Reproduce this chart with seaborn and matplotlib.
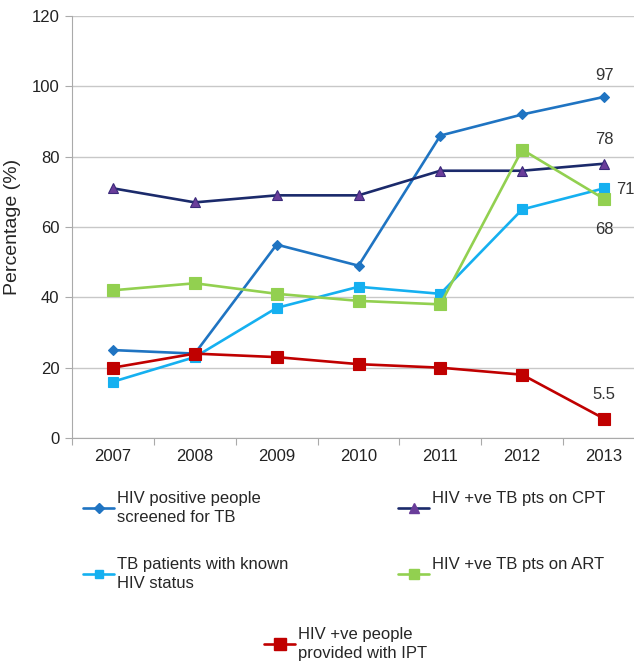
import pandas as pd
import matplotlib
matplotlib.use('Agg')
import matplotlib.pyplot as plt
import seaborn as sns
from matplotlib.lines import Line2D

sns.set_style('white')
plt.rcParams['font.family'] = ['Liberation Sans', 'DejaVu Sans']

# data
years = ['2007', '2008', '2009', '2010', '2011', '2012', '2013']
screened = [25, 24, 55, 49, 86, 92, 97]
on_cpt = [71, 67, 69, 69, 76, 76, 78]
known_status = [16, 23, 37, 43, 41, 65, 71]
on_art = [42, 44, 41, 39, 38, 82, 68]
ipt = [20, 24, 23, 21, 20, 18, 5.5]

series = [
    # label, values, line colour, marker, marker colour, marker size
    ('HIV positive people\nscreened for TB', screened, '#1F74C2', 'D', '#1F74C2', 5.5),
    ('HIV +ve TB pts on CPT', on_cpt, '#1B2A6B', '^', '#6A3D9A', 7.5),
    ('TB patients with known\nHIV status', known_status, '#15B0F0', 's', '#15B0F0', 7),
    ('HIV +ve TB pts on ART', on_art, '#92D050', 's', '#92D050', 8),
    ('HIV +ve people\nprovided with IPT', ipt, '#C00000', 's', '#C00000', 9),
]

fig = plt.figure(figsize=(6.34, 6.63), dpi=100)
ax = fig.add_axes([72 / 634, 225 / 663, 573 / 634, 422 / 663])

pos = list(range(len(years)))
handles = []
for label, vals, lc, mk, mc, ms in series:
    df = pd.DataFrame({'x': pos, 'y': vals})
    sns.lineplot(data=df, x='x', y='y', ax=ax, color=lc, linewidth=1.9,
                 marker=mk, markersize=ms, markerfacecolor=mc,
                 markeredgecolor=mc if mk != '^' else '#3A2A7A', markeredgewidth=0.8)
    handles.append(Line2D([], [], color=lc, linewidth=1.9, marker=mk,
                          markersize=ms * 0.9, markerfacecolor=mc, markeredgecolor=mc))

# value labels on last year
txt = dict(fontsize=12, color='#333333')
ax.annotate('97', (6, screened[-1]), xytext=(0, 12), textcoords='offset points', ha='center', **txt)
ax.annotate('78', (6, on_cpt[-1]), xytext=(0, 14), textcoords='offset points', ha='center', **txt)
ax.annotate('71', (6, known_status[-1]), xytext=(8.5, -4), textcoords='offset points', ha='left', **txt)
ax.annotate('68', (6, on_art[-1]), xytext=(0, -25), textcoords='offset points', ha='center', **txt)
ax.annotate('5.5', (6, ipt[-1]), xytext=(0, 14), textcoords='offset points', ha='center', **txt)

ax.set_xlim(-0.5, 6.5)
ax.set_ylim(0, 120)
ax.set_yticks(range(0, 121, 20))
ax.set_xticks([i - 0.5 for i in range(8)])
ax.set_xticklabels([])
ax.set_xticks(pos, minor=True)
ax.set_xticklabels(years, minor=True)
ax.tick_params(axis='x', which='major', length=5, color='#AAAAAA', direction='out', bottom=True)
ax.tick_params(axis='x', which='minor', length=0, labelsize=12, pad=8, labelcolor='#222222')
ax.tick_params(axis='y', length=5, color='#AAAAAA', direction='out', left=True, labelsize=12,
               labelcolor='#222222', pad=4)
ax.grid(axis='y', color='#C8C8C8', linewidth=1)
ax.set_axisbelow(True)
for s in ['top', 'right']:
    ax.spines[s].set_visible(False)
for s in ['left', 'bottom']:
    ax.spines[s].set_color('#AAAAAA')
ax.set_xlabel('')
ax.set_ylabel('Percentage (%)', fontsize=14, labelpad=8)

leg_kw = dict(frameon=False, fontsize=12, handlelength=1.9, handletextpad=0.15,
              borderaxespad=0, labelspacing=1.9)
legs = [
    fig.legend(handles=[handles[0], handles[2]], labels=[series[0][0], series[2][0]],
               loc='upper left', bbox_to_anchor=(76 / 634, 1 - 484 / 663), **leg_kw),
    fig.legend(handles=[handles[1], handles[3]], labels=[series[1][0] + '\n ', series[3][0] + '\n '],
               loc='upper left', bbox_to_anchor=(391 / 634, 1 - 484 / 663), **leg_kw),
    fig.legend(handles=[handles[4]], labels=[series[4][0]],
               loc='upper left', bbox_to_anchor=(257 / 634, 1 - 620 / 663), **leg_kw),
]
for leg in legs:
    for t in leg.get_texts():
        t.set_linespacing(1.35)

fig.savefig('out.png', dpi=100)
